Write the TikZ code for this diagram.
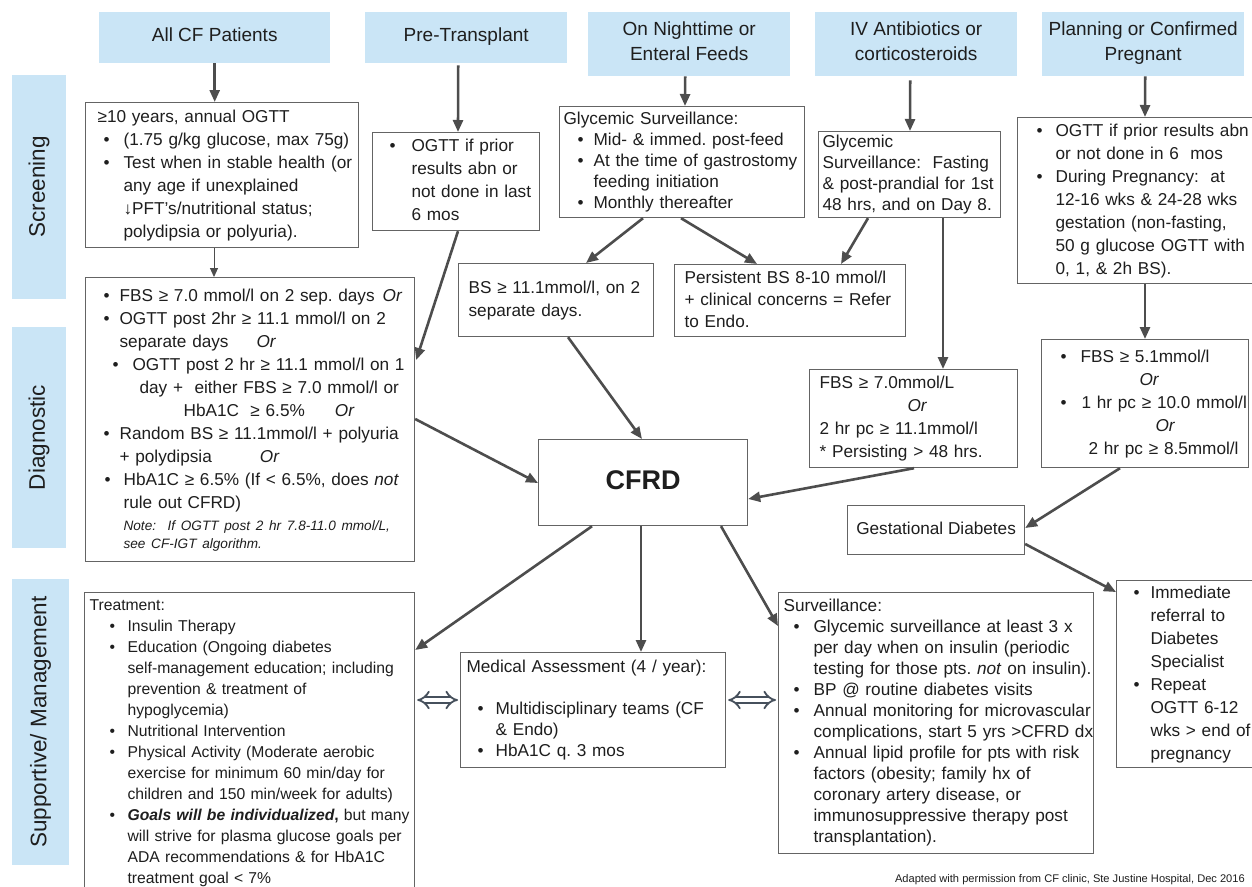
\documentclass[tikz,border=0pt]{standalone}
\usepackage{fontspec}
\setmainfont{Liberation Sans}
\usetikzlibrary{arrows.meta,calc}
\definecolor{hdrblue}{RGB}{202,229,246}
\definecolor{boxline}{RGB}{100,100,100}
\definecolor{arr}{RGB}{77,77,77}
\definecolor{dblc}{RGB}{70,80,92}
\definecolor{txt}{RGB}{30,30,30}
\frenchspacing
\newcommand\HStrut{\rule[-0.34\baselineskip]{0pt}{\baselineskip}}
\newcommand\Ln[2]{\noindent\hspace*{#1pt}\mbox{\strut#2}\par}
\newcommand\Bl[3]{\noindent\hspace*{#1pt}\makebox[\dimexpr#2pt-#1pt\relax][l]{\strut\textbullet}\mbox{#3}\par}
\newcommand\fA{\fontsize{17.2pt}{23pt}\selectfont\frenchspacing\lineskiplimit=-50pt\relax}
\newcommand\fB{\fontsize{17.2pt}{21pt}\selectfont\frenchspacing\lineskiplimit=-50pt\relax}
\newcommand\fC{\fontsize{17.2pt}{22pt}\selectfont\frenchspacing\lineskiplimit=-50pt\relax}
\newcommand\fD{\fontsize{15.7pt}{21pt}\selectfont\frenchspacing\lineskiplimit=-50pt\relax}
\newcommand\fH{\fontsize{19pt}{25pt}\selectfont}
\newcommand\fS{\fontsize{22.5pt}{27pt}\selectfont}
\newcommand\fCF{\fontsize{27pt}{30pt}\selectfont\bfseries}
\newcommand\fFoot{\fontsize{11.1pt}{13pt}\selectfont\frenchspacing}
\tikzset{
  hdr/.style={fill=hdrblue, text=txt, align=center, font=\fH, inner sep=0pt, anchor=north west},
  side/.style={fill=hdrblue, text=txt, font=\fS, inner sep=0pt, anchor=center, rotate=90},
  bx/.style={draw=boxline, line width=1.2pt, fill=white, text=txt, inner sep=0pt, anchor=north west, align=left},
  bA/.style={font=\fA},
  bB/.style={font=\fB},
  bC/.style={font=\fC},
  bD/.style={font=\fD},
  conn/.style={draw=arr, line width=2.6pt, -{Triangle[length=12pt,width=10pt]}},
  thinconn/.style={draw=arr, line width=1pt, -{Triangle[length=9pt,width=8pt]}},
  dbl/.style={draw=dblc, line width=1.8pt, double=white, double distance=4.5pt, {Implies[length=7pt,width=17pt]}-{Implies[length=7pt,width=17pt]}}
}
\begin{document}
\begin{tikzpicture}[x=1pt,y=-1pt]
\useasboundingbox[fill=white] (0,0) rectangle (1252,886);

% headers
\node[hdr, minimum width=231pt, minimum height=51pt] (allcf) at (99,12) {\HStrut All CF Patients};
\node[hdr, minimum width=202pt, minimum height=51pt] (pret) at (365,12) {\HStrut Pre-Transplant};
\node[hdr, minimum width=202pt, minimum height=64pt] (night) at (588,12) {\HStrut On Nighttime or\\\HStrut Enteral Feeds};
\node[hdr, minimum width=202pt, minimum height=64pt] (ivh) at (815,12) {\HStrut IV Antibiotics or\\\HStrut corticosteroids};
\node[hdr, minimum width=202pt, minimum height=64pt] (pregh) at (1042,12) {\HStrut Planning or Confirmed\\\HStrut Pregnant};

% side labels
\node[side, minimum width=224pt, minimum height=54pt] (lscr) at (39,187) {Screening};
\node[side, minimum width=221pt, minimum height=54pt] (ldiag) at (39,437.5) {Diagnostic};
\node[side, minimum width=286pt, minimum height=57pt] (lsupp) at (40.5,722) {Supportive/ Management};

% screening boxes
\node[bx, bA, minimum width=273pt, minimum height=145pt, text width=273pt] (scr1) at (85,102) {%
\Ln{12}{≥10 years, annual OGTT}
\Bl{18}{38}{(1.75 g/kg glucose, max 75g)}
\Bl{18}{38}{Test when in stable health (or}
\Ln{38}{any age if unexplained}
\Ln{38}{↓PFT's/nutritional status;}
\Ln{38}{polydipsia or polyuria).}};

\node[bx, bA, minimum width=167pt, minimum height=98pt, text width=167pt] (pre1) at (372,132) {%
\Bl{17}{39}{OGTT if prior}
\Ln{39}{results abn or}
\Ln{39}{not done in last}
\Ln{39}{6 mos}};

\node[bx, bB, minimum width=245pt, minimum height=111pt, text width=245pt] (feed1) at (559,106) {%
\Ln{4}{Glycemic Surveillance:}
\Bl{18}{34}{Mid- \& immed. post-feed}
\Bl{18}{34}{At the time of gastrostomy}
\Ln{34}{feeding initiation}
\Bl{18}{34}{Monthly thereafter}};

\node[bx, bB, minimum width=182pt, minimum height=86pt, text width=182pt] (iv1) at (818,131) {%
\Ln{4}{Glycemic}
\Ln{4}{Surveillance:\ \ Fasting}
\Ln{4}{\& post-prandial for 1st}
\Ln{4}{48 hrs, and on Day 8.}};

\node[bx, bA, minimum width=236pt, minimum height=166pt, text width=236pt] (preg1) at (1017,117) {%
\Bl{19}{38}{OGTT if prior results abn}
\Ln{38}{or not done in 6\ \ mos}
\Bl{19}{38}{During Pregnancy:\ \ at}
\Ln{38}{12-16 wks \& 24-28 wks}
\Ln{38}{gestation (non-fasting,}
\Ln{38}{50 g glucose OGTT with}
\Ln{38}{0, 1, \& 2h BS).}};

% diagnostic boxes
\node[bx, bA, minimum width=195pt, minimum height=73pt, text width=195pt] (bs1) at (458,263) {%
\Ln{10}{BS ≥ 11.1mmol/l, on 2}
\Ln{10}{separate days.}};

\node[bx, bC, minimum width=231pt, minimum height=72pt, text width=231pt] (persist) at (674,264) {%
\Ln{10}{Persistent BS 8-10 mmol/l}
\Ln{10}{+ clinical concerns = Refer}
\Ln{10}{to Endo.}};

\node[bx, bA, minimum width=329pt, minimum height=284pt, text width=329pt] (diag1) at (85,277) {%
\Bl{18}{34}{FBS ≥ 7.0 mmol/l on 2 sep. days\hspace{8pt}\textit{Or}}
\Bl{18}{34}{OGTT post 2hr ≥ 11.1 mmol/l on 2}
\Ln{34}{separate days\hspace{28pt}\textit{Or}}
\Bl{27}{47}{OGTT post 2 hr ≥ 11.1 mmol/l on 1}
\Ln{54}{day +\ \ either FBS ≥ 7.0 mmol/l or}
\Ln{98}{HbA1C\ \ ≥ 6.5\%\hspace{30pt}\textit{Or}}
\Bl{18}{34}{Random BS ≥ 11.1mmol/l + polyuria}
\Ln{34}{+ polydipsia\hspace{48pt}\textit{Or}}
\Bl{19}{38}{HbA1C ≥ 6.5\% (If < 6.5\%, does \textit{not}}
\Ln{38}{rule out CFRD)}
{\fontsize{13.6pt}{22pt}\selectfont\itshape\noindent\hspace*{38pt}\mbox{\strut Note:\ \ If OGTT post 2 hr 7.8-11.0 mmol/L,}\par
\fontsize{13.6pt}{18pt}\selectfont\noindent\hspace*{38pt}\mbox{\strut see CF-IGT algorithm.}\par}};

\node[bx, bA, minimum width=208pt, minimum height=98pt, text width=208pt] (iv2) at (809,369) {%
\Ln{10}{FBS ≥ 7.0mmol/L}
\Ln{98}{\textit{Or}}
\Ln{10}{2 hr pc ≥ 11.1mmol/l}
\Ln{10}{* Persisting > 48 hrs.}};

\node[bx, bA, minimum width=207pt, minimum height=128pt, text width=207pt] (preg2) at (1041,339) {%
\Bl{19}{39}{FBS ≥ 5.1mmol/l}
\Ln{98}{\textit{Or}}
\Bl{19}{40}{1 hr pc ≥ 10.0 mmol/l}
\Ln{114}{\textit{Or}}
\Ln{47}{2 hr pc ≥ 8.5mmol/l}};

\node[bx, align=center, minimum width=209pt, minimum height=86pt, font=\fCF] (cfrd) at (538,439) {\rule[-6pt]{0pt}{6pt}CFRD};

\node[bx, bA, align=center, minimum width=177pt, minimum height=49pt] (gest) at (847,505) {\strut Gestational Diabetes};

% management boxes
\node[bx, bD, minimum width=330pt, minimum height=300pt, text width=330pt] (treat) at (84,592) {%
\Ln{5}{Treatment:}
\Bl{25}{43}{Insulin Therapy}
\Bl{25}{43}{Education (Ongoing diabetes}
\Ln{43}{self-management education; including}
\Ln{43}{prevention \& treatment of}
\Ln{43}{hypoglycemia)}
\Bl{25}{43}{Nutritional Intervention}
\Bl{25}{43}{Physical Activity (Moderate aerobic}
\Ln{43}{exercise for minimum 60 min/day for}
\Ln{43}{children and 150 min/week for adults)}
\Bl{25}{43}{\textbf{\textit{Goals will be individualized},} but many}
\Ln{43}{will strive for plasma glucose goals per}
\Ln{43}{ADA recommendations \& for HbA1C}
\Ln{43}{treatment goal < 7\%}};

\node[bx, bB, minimum width=265pt, minimum height=115pt, text width=265pt] (med) at (460,652) {%
\Ln{6}{Medical Assessment (4 / year):}
\Ln{6}{}
\Bl{17}{35}{Multidisciplinary teams (CF}
\Ln{35}{\& Endo)}
\Bl{17}{35}{HbA1C q. 3 mos}};

\node[bx, bB, minimum width=315pt, minimum height=261pt, text width=315pt] (surv) at (778,592) {%
\Ln{5}{Surveillance:}
\Bl{15}{35}{Glycemic surveillance at least 3 x}
\Ln{35}{per day when on insulin (periodic}
\Ln{35}{testing for those pts. \textit{not} on insulin).}
\Bl{15}{35}{BP @ routine diabetes visits}
\Bl{15}{35}{Annual monitoring for microvascular}
\Ln{35}{complications, start 5 yrs >CFRD dx}
\Bl{15}{35}{Annual lipid profile for pts with risk}
\Ln{35}{factors (obesity; family hx of}
\Ln{35}{coronary artery disease, or}
\Ln{35}{immunosuppressive therapy post}
\Ln{35}{transplantation).}};

\node[bx, bA, minimum width=137pt, minimum height=187pt, text width=137pt] (refer) at (1116,580) {%
\Bl{17}{34}{Immediate}
\Ln{34}{referral to}
\Ln{34}{Diabetes}
\Ln{34}{Specialist}
\Bl{17}{34}{Repeat}
\Ln{34}{OGTT 6-12}
\Ln{34}{wks > end of}
\Ln{34}{pregnancy}};

\node[font=\fFoot, anchor=base east, inner sep=0pt, text=txt] (foot) at (1245,882) {Adapted with permission from CF clinic, Ste Justine Hospital, Dec 2016};

% connectors
\draw[conn] (allcf.south) -- (allcf.south |- scr1.north);
\draw[thinconn] ($(scr1.south west)+(129,0)$) -- ($(diag1.north west)+(129,0)$);
\draw[conn] ($(pret.south)+(-8,2)$) -- ($(pre1.north west)+(86,0)$);
\draw[conn] ($(pre1.south west)+(86,0)$) -- ($(diag1.north east)+(1,83)$);
\draw[conn] ($(night.south)+(-4,0)$) -- ($(feed1.north west)+(126,0)$);
\draw[conn] ($(ivh.south)+(-6,4)$) -- ($(iv1.north west)+(92,0)$);
\draw[conn] ($(pregh.south)+(2,0)$) -- ($(preg1.north west)+(128,0)$);
\draw[conn] ($(feed1.south west)+(84,0)$) -- ($(bs1.north west)+(128,0)$);
\draw[conn] ($(feed1.south west)+(122,0)$) -- ($(persist.north west)+(83,0)$);
\draw[conn] ($(iv1.south west)+(50,0)$) -- ($(persist.north west)+(167,0)$);
\draw[conn] ($(iv1.south west)+(125,0)$) -- ($(iv2.north west)+(134,0)$);
\draw[conn] ($(bs1.south west)+(110,0)$) -- ($(cfrd.north west)+(104,0)$);
\draw[conn] ($(diag1.north east)+(0,142)$) -- ($(cfrd.north west)+(0,44)$);
\draw[conn] ($(iv2.south west)+(105,0)$) -- ($(cfrd.north east)+(0,60)$);
\draw[conn] ($(preg1.south west)+(128,0)$) -- ($(preg2.north west)+(104,0)$);
\draw[conn] ($(preg2.south west)+(79,0)$) -- ($(gest.north east)+(0,23)$);
\draw[conn] ($(gest.north east)+(0,39)$) -- ($(refer.north west)+(0,12)$);
\draw[conn] ($(cfrd.south west)+(54,0)$) -- ($(treat.north east)+(0,58)$);
\draw[conn] ($(cfrd.south west)+(103,0)$) -- ($(med.north west)+(181,0)$);
\draw[conn] ($(cfrd.south west)+(183,0)$) -- ($(surv.north west)+(0,34)$);
\draw[dbl] ($(treat.north east)+(2,108)$) -- ($(med.north west)+(-2,48)$);
\draw[dbl] ($(med.north east)+(2,48)$) -- ($(surv.north west)+(-2,108)$);
\end{tikzpicture}
\end{document}
